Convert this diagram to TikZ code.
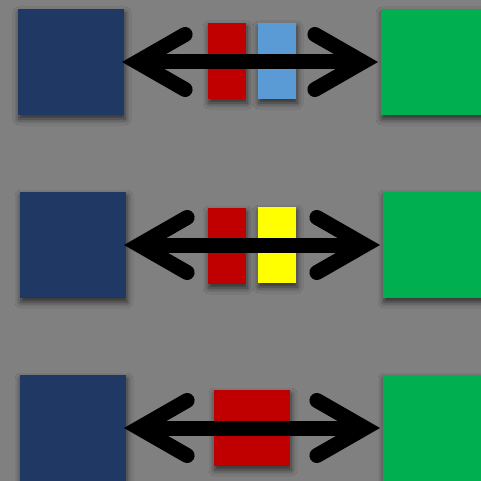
\documentclass[tikz,border=0pt]{standalone}
\usepackage{tikz}
\usetikzlibrary{arrows.meta, shadows.blur}

\definecolor{navy}{HTML}{1F3864}
\definecolor{grn}{HTML}{00B050}
\definecolor{dred}{HTML}{C00000}
\definecolor{lblue}{HTML}{5B9BD5}
\definecolor{yel}{HTML}{FFFF00}
\definecolor{bg}{HTML}{808080}

\tikzset{
  shade/.style={blur shadow={shadow xshift=1pt, shadow yshift=-4pt,
      shadow blur radius=6pt, shadow opacity=65}},
  box/.style={shade, inner sep=0pt, outer sep=0pt, minimum size=106pt},
  bar/.style={shade, inner sep=0pt, outer sep=0pt, minimum width=38pt, minimum height=76pt},
  barb/.tip={Straight Barb[length=48pt, width=55pt, line cap=round, line join=miter]},
  link/.style={line width=15pt, barb-barb, shorten <=-2pt, shorten >=3pt}
}

\begin{document}
\begin{tikzpicture}[x=1pt, y=-1pt]
            % Nền
            \useasboundingbox (0,0) rectangle (481,481);
            \clip (0,0) rectangle (481,481);
            \fill[bg] (0,0) rectangle (481,481);
            
            % Tọa độ
            \coordinate (L1) at (71,62);
            \coordinate (R1) at (434,62);
            \coordinate (L2) at (73,245);
            \coordinate (R2) at (436,245);
            \coordinate (L3) at (73,428);
            \coordinate (R3) at (436,428);
            
            % Các hình vuông hai bên
            \node[box, fill=navy] (left1) at (L1) {};
            \node[box, fill=grn] (right1) at (R1) {};
            \node[box, fill=navy] (left2) at (L2) {};
            \node[box, fill=grn] (right2) at (R2) {};
            \node[box, fill=navy] (left3) at (L3) {};
            \node[box, fill=grn] (right3) at (R3) {};
            
            % Các khối ở giữa
            \node[bar, fill=dred] (mida1) at (227,61) {};
            \node[bar, fill=lblue] (midb1) at (277,61) {};
            \node[bar, fill=dred] (mida2) at (227,246) {};
            \node[bar, fill=yel] (midb2) at (277,245) {};
            \node[bar, fill=dred, minimum width=76pt] (mida3) at (252,428) {};
            
            % Mũi tên hai chiều
            \draw[link] (left1.east) -- (right1.west);
            \draw[link] (left2.east) -- (right2.west);
            \draw[link] (left3.east) -- (right3.west);
\end{tikzpicture}
\end{document}
